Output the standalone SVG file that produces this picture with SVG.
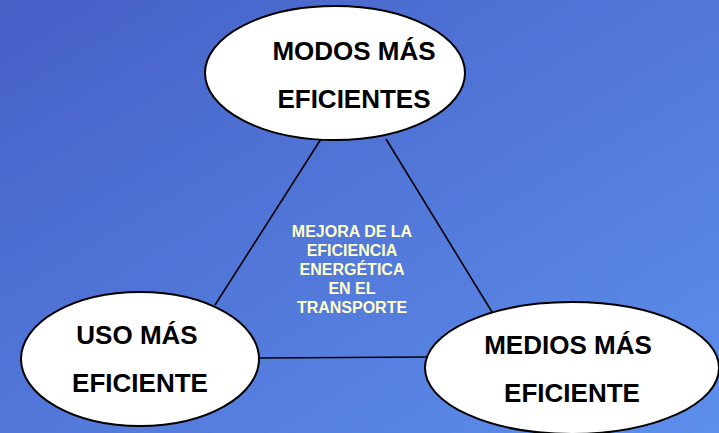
<svg xmlns="http://www.w3.org/2000/svg" width="719" height="433" viewBox="0 0 719 433">
<defs>
<linearGradient id="bg" x1="0" y1="0" x2="1" y2="1">
<stop offset="0" stop-color="#4660C6"/>
<stop offset="1" stop-color="#5D8FEC"/>
</linearGradient>
</defs>
<style>
.node ellipse{fill:#fff;stroke:#000;stroke-width:2}
.lbl{font-family:"Liberation Sans",Arial,sans-serif;font-weight:bold;font-size:26px;fill:#000;text-anchor:middle}
.ctr{font-family:"Liberation Sans",Arial,sans-serif;font-weight:bold;font-size:16px;fill:#FFFFC8;text-anchor:middle}
.edge{stroke:#000;stroke-width:1.6;fill:none}
</style>
<rect width="719" height="433" fill="url(#bg)"/>
<g id="connectors">
<line class="edge" x1="321" y1="139" x2="215" y2="305"/>
<line class="edge" x1="386" y1="139" x2="492" y2="312"/>
<line class="edge" x1="258" y1="358" x2="428" y2="357"/>
</g>
<g id="center">
<text class="ctr" x="352" y="237">MEJORA DE LA</text>
<text class="ctr" x="352" y="256">EFICIENCIA</text>
<text class="ctr" x="352" y="275">ENERGÉTICA</text>
<text class="ctr" x="352" y="294">EN EL</text>
<text class="ctr" x="352" y="313">TRANSPORTE</text>
</g>
<g id="modos" class="node">
<ellipse cx="335" cy="73" rx="130" ry="67"/>
<text class="lbl" x="354" y="60">MODOS MÁS</text>
<text class="lbl" x="354" y="108">EFICIENTES</text>
</g>
<g id="uso" class="node">
<ellipse cx="140" cy="359" rx="119" ry="67"/>
<text class="lbl" x="137" y="344">USO MÁS</text>
<text class="lbl" x="140" y="392">EFICIENTE</text>
</g>
<g id="medios" class="node">
<ellipse cx="572" cy="368" rx="147" ry="66"/>
<text class="lbl" x="568" y="354">MEDIOS MÁS</text>
<text class="lbl" x="572" y="402">EFICIENTE</text>
</g>
</svg>
